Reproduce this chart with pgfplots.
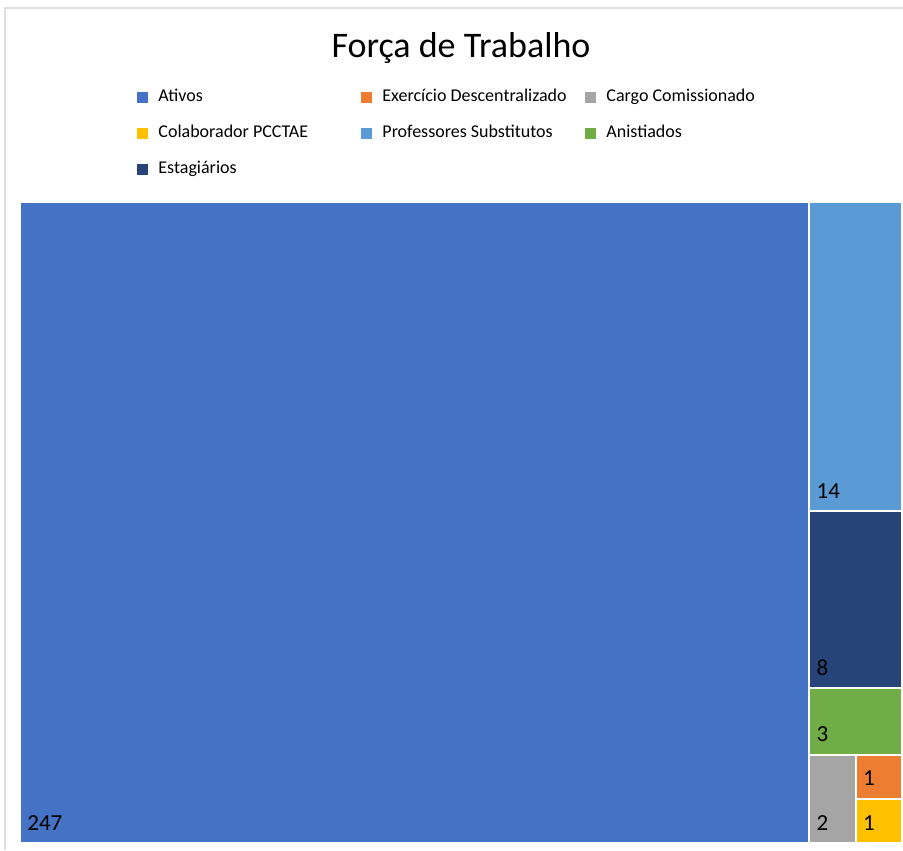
\documentclass[border=0pt]{standalone}
\usepackage{pgfplots}
\pgfplotsset{compat=1.18}
\usepackage{fontspec}
\setmainfont{Carlito}

\definecolor{cAtivos}{HTML}{4472C4}
\definecolor{cExerc}{HTML}{ED7D31}
\definecolor{cCargo}{HTML}{A5A5A5}
\definecolor{cColab}{HTML}{FFC000}
\definecolor{cProf}{HTML}{5B9BD5}
\definecolor{cAnist}{HTML}{70AD47}
\definecolor{cEstag}{HTML}{264478}

\begin{document}
\begin{tikzpicture}
\useasboundingbox (-10pt,-3.5pt) rectangle (441.5pt,421.5pt);
\draw[black!12, line width=0.6pt] (-7.5pt,-3.5pt) -- (-7.5pt,417.5pt) -- (441.5pt,417.5pt);
\begin{axis}[
    at={(0pt,0pt)}, anchor=south west,
    scale only axis,
    width=441pt, height=320.5pt,
    xmin=0, xmax=276,
    ymin=0, ymax=29,
    y dir=reverse,
    axis lines=none,
    clip=false,
    legend columns=3,
    legend cell align=left,
    legend style={
        at={(0.1327,1.1755)}, anchor=north west,
        draw=none, fill=none, inner sep=0pt,
        font=\fontsize{9}{10.5}\selectfont,
        nodes={text width=101.5pt, text height=6pt, text depth=1.5pt, inner sep=0pt, align=flush left},
        /tikz/every odd column/.style={column sep=5pt},
        row sep=10.5pt,
    },
    legend image code/.code={\path[#1, draw=none] (0pt,-2.75pt) rectangle (5.5pt,2.75pt);},
    every axis plot/.append style={draw=white, line width=1pt},
]
% values 247, 1, 2, 1, 14, 3, 8 -- treemap rectangles (areas ~ values)
\addplot[fill=cAtivos] coordinates {(0,0) (247,0) (247,29) (0,29)} --cycle;
\addplot[fill=cExerc] coordinates {(261.5,25) (276,25) (276,27) (261.5,27)} --cycle;
\addplot[fill=cCargo] coordinates {(247,25) (261.5,25) (261.5,29) (247,29)} --cycle;
\addplot[fill=cColab] coordinates {(261.5,27) (276,27) (276,29) (261.5,29)} --cycle;
\addplot[fill=cProf] coordinates {(247,0) (276,0) (276,14) (247,14)} --cycle;
\addplot[fill=cAnist] coordinates {(247,22) (276,22) (276,25) (247,25)} --cycle;
\addplot[fill=cEstag] coordinates {(247,14) (276,14) (276,22) (247,22)} --cycle;
\legend{Ativos, Exercício Descentralizado, Cargo Comissionado, Colaborador PCCTAE, Professores Substitutos, Anistiados, Estagiários}

\begin{scope}[every node/.style={anchor=base west, font=\fontsize{11.5}{13}\selectfont, xshift=3.5pt, yshift=6.5pt, inner sep=0pt}]
\node at (axis cs:0,29) {247};
\node at (axis cs:247,14) {14};
\node at (axis cs:247,22) {8};
\node at (axis cs:247,25) {3};
\node at (axis cs:247,29) {2};
\node at (axis cs:261.5,27) {1};
\node at (axis cs:261.5,29) {1};
\end{scope}
\end{axis}
\node[anchor=base, font=\fontsize{18}{21}\selectfont, inner sep=0pt] at (220.5pt,392.5pt) {Força de Trabalho};
\end{tikzpicture}
\end{document}
